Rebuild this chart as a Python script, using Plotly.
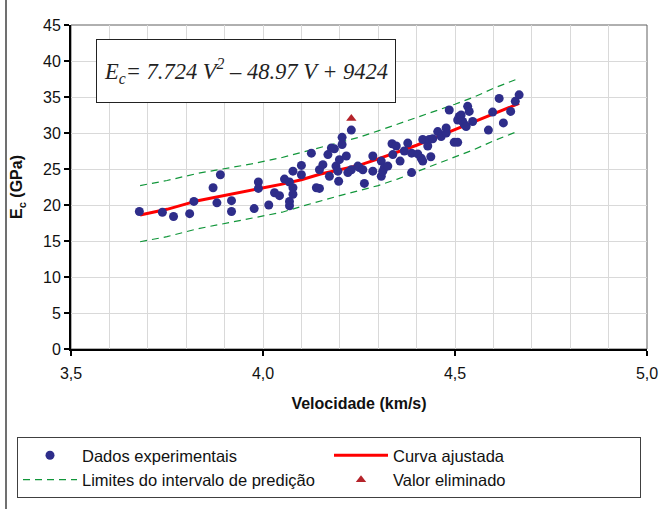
import plotly.graph_objects as go

# ---- data ----
v_exp = [3.678, 3.738, 3.767, 3.809, 3.820, 3.870, 3.880, 3.889, 3.918, 3.918,
         3.977, 3.988, 3.988, 4.015, 4.030, 4.043, 4.056, 4.069, 4.069, 4.069,
         4.078, 4.078, 4.078, 4.100, 4.100, 4.126, 4.139, 4.147, 4.147, 4.156,
         4.169, 4.173, 4.178, 4.186, 4.190, 4.195, 4.197, 4.199, 4.206, 4.206,
         4.217, 4.221, 4.230, 4.230, 4.247, 4.251, 4.260, 4.264, 4.286, 4.286,
         4.308, 4.308, 4.312, 4.316, 4.325, 4.336, 4.338, 4.347, 4.357, 4.368,
         4.377, 4.387, 4.387, 4.403, 4.412, 4.416, 4.416, 4.429, 4.433, 4.437,
         4.442, 4.455, 4.464, 4.477, 4.477, 4.485, 4.498, 4.507, 4.507, 4.511,
         4.516, 4.520, 4.524, 4.529, 4.533, 4.537, 4.546, 4.587, 4.598, 4.615,
         4.626, 4.645, 4.657, 4.667]
e_exp = [19.1, 19.0, 18.4, 18.8, 20.5, 22.4, 20.3, 24.2, 20.6, 19.1,
         19.5, 23.2, 22.3, 20.0, 21.7, 21.3, 23.6, 23.2, 20.5, 19.9,
         22.4, 21.5, 24.7, 25.5, 24.2, 27.2, 22.4, 22.3, 24.9, 25.6,
         27.0, 24.0, 27.9, 27.8, 25.4, 24.7, 23.3, 26.3, 28.4, 29.4,
         26.8, 24.5, 24.9, 30.4, 25.4, 25.2, 24.9, 23.0, 26.8, 24.7,
         26.1, 24.0, 24.7, 25.2, 25.4, 28.5, 27.0, 28.2, 26.1, 27.5,
         28.6, 27.2, 24.5, 27.1, 26.5, 26.1, 29.1, 28.2, 29.1, 26.7,
         29.2, 30.2, 29.5, 30.7, 30.0, 33.2, 28.7, 28.7, 31.8, 32.3,
         32.5, 31.6, 31.2, 30.9, 33.7, 33.0, 31.6, 30.4, 32.9, 34.8,
         31.4, 33.0, 34.4, 35.3]

v_curve = [3.68, 3.75, 3.83, 3.90, 3.97, 4.05, 4.10, 4.15, 4.20, 4.25,
           4.30, 4.35, 4.40, 4.45, 4.50, 4.55, 4.60, 4.667]
e_curve = [18.6, 19.4, 20.6, 21.3, 22.1, 22.9, 23.5, 24.3, 24.9, 25.5,
           26.4, 27.3, 28.3, 29.4, 30.5, 31.5, 32.7, 34.1]
e_upper = [22.7, 23.4, 24.4, 25.0, 25.7, 26.6, 27.3, 28.1, 28.8, 29.4,
           30.3, 31.2, 32.1, 33.0, 34.0, 35.0, 36.2, 37.6]
e_lower = [14.9, 15.6, 16.7, 17.4, 18.2, 19.0, 19.8, 20.6, 21.3, 22.0,
           22.7, 23.6, 24.6, 25.6, 26.6, 27.7, 28.9, 30.3]

v_elim = [4.230]
e_elim = [32.0]

x_tickvals = [3.5, 4.0, 4.5, 5.0]
x_ticktext = ["3,5", "4,0", "4,5", "5,0"]
y_tickvals = [0, 5, 10, 15, 20, 25, 30, 35, 40, 45]

equation = "<i>E<sub>c</sub>= 7.724 V<sup>2</sup> – 48.97 V + 9424</i>"

# ---- figure ----
FONT = "Liberation Sans, Arial, sans-serif"
W, H = 660, 509
L, R, T, B = 71, 13, 25, 160
pw, ph = W - L - R, H - T - B

def px_x(p):
    return (p - L) / pw

def px_y(p):
    return (H - B - p) / ph

fig = go.Figure()

green = "#11963A"
fig.add_trace(go.Scatter(x=v_curve, y=e_upper, mode="lines",
                         line=dict(color=green, width=1.2, dash="7px,5px"),
                         name="Limites do intervalo de predição", legendrank=3))
fig.add_trace(go.Scatter(x=v_curve, y=e_lower, mode="lines",
                         line=dict(color=green, width=1.2, dash="7px,5px"),
                         name="Limites do intervalo de predição", showlegend=False))
fig.add_trace(go.Scatter(x=v_curve, y=e_curve, mode="lines",
                         line=dict(color="#FF0000", width=3),
                         name="Curva ajustada", legendrank=2))
fig.add_trace(go.Scatter(x=v_exp, y=e_exp, mode="markers",
                         marker=dict(color="#2E2D8A", size=9, line=dict(width=0)),
                         name="Dados experimentais", legendrank=1))
fig.add_trace(go.Scatter(x=v_elim, y=e_elim, mode="markers",
                         marker=dict(color="#B5232A", size=9, symbol="triangle-up",
                                     line=dict(width=0)),
                         name="Valor eliminado", legendrank=4))

fig.update_layout(
    width=W, height=H,
    margin=dict(l=L, r=R, t=T, b=B, autoexpand=False),
    paper_bgcolor="white", plot_bgcolor="white",
    font=dict(family=FONT, size=16, color="#111111"),
    xaxis=dict(range=[3.5, 5.0], tickvals=x_tickvals, ticktext=x_ticktext,
               showgrid=True, gridcolor="#D9D9D9", gridwidth=1,
               minor=dict(dtick=0.1, tick0=3.5, showgrid=True, gridcolor="#D9D9D9",
                          gridwidth=1, ticks=""),
               showline=True, linecolor="black", linewidth=2,
               ticks="outside", ticklen=5, tickwidth=2, tickcolor="black",
               ticklabelstandoff=4,
               zeroline=False, tickfont=dict(size=16), automargin=False,
               title=dict(text="<b>Velocidade (km/s)</b>", standoff=17,
                          font=dict(size=16))),
    yaxis=dict(range=[0, 45], tickvals=y_tickvals,
               showgrid=True, gridcolor="#D9D9D9", gridwidth=1,
               showline=True, linecolor="black", linewidth=2,
               ticks="outside", ticklen=5, tickwidth=2, tickcolor="black",
               zeroline=False, tickfont=dict(size=16), automargin=False,
               title=dict(text="<b>E<sub>c</sub> (GPa)</b>", standoff=16,
                          font=dict(size=16))),
    legend=dict(orientation="h", x=px_x(17), y=px_y(437), xanchor="left", yanchor="top",
                entrywidth=242, entrywidthmode="pixels", itemwidth=54,
                bordercolor="#404040", borderwidth=1, bgcolor="white",
                font=dict(family=FONT, size=16.5, color="#111111"),
                traceorder="normal"),
    showlegend=True,
)

# plot area frame (top/right thin border)
fig.add_shape(type="rect", xref="paper", yref="paper", x0=0, x1=1, y0=0, y1=1,
              line=dict(color="#606060", width=1), layer="between")
# outer chart border on the left
fig.add_shape(type="line", xref="paper", yref="paper",
              x0=px_x(6), x1=px_x(6), y0=px_y(0), y1=px_y(H),
              line=dict(color="#404040", width=1.5))

# equation box
fig.add_annotation(xref="paper", yref="paper", x=px_x(246), y=px_y(71.3),
                   xanchor="center", yanchor="middle", showarrow=False,
                   text=equation, width=296, height=60, borderpad=1,
                   bordercolor="#222222", borderwidth=1, bgcolor="white",
                   font=dict(family="Liberation Serif, Times New Roman, serif",
                             size=22.5, color="#222222"))

fig.write_html("out.html",
               config={"displayModeBar": False},
               post_script="document.body.style.margin='0';"
                           "document.body.style.overflow='hidden';")
